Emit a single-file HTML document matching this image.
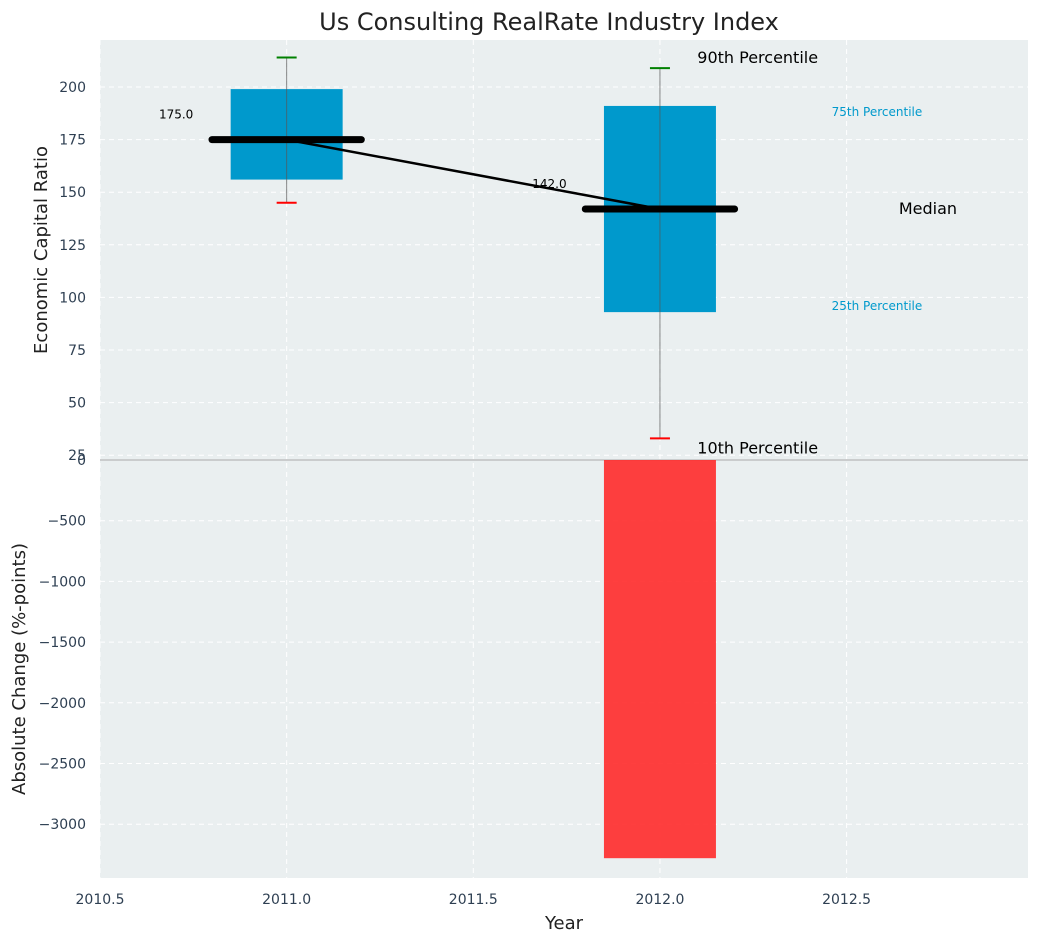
<!DOCTYPE html>
<html><head><meta charset="utf-8"><style>
body{margin:0;background:#fff;font-family:"Liberation Sans","DejaVu Sans",sans-serif}
svg text{font-family:"DejaVu Sans","Liberation Sans",sans-serif}
</style></head><body>
<svg id="c" width="1039" height="942" xmlns="http://www.w3.org/2000/svg"></svg>
<script>
const years=[2011,2012];
const p10=[145,33];
const p25=[156,93];
const median=[175,142];
const p75=[199,191];
const p90=[214,209];
const changes=[0,-3280];
const xTicks=[2010.5,2011.0,2011.5,2012.0,2012.5];
const yTopTicks=[25,50,75,100,125,150,175,200];
const yBotTicks=[0,-500,-1000,-1500,-2000,-2500,-3000];

const NS='http://www.w3.org/2000/svg';
const svg=document.getElementById('c');
const L=100,R=1028,T1=40,B1=460,T2=460,B2=878;
const x=v=>L+(v-2010.5)*373.3;
const yT=v=>87+(200-v)*2.104;
const yB=v=>460-v*0.1214;
function el(t,a,p){const e=document.createElementNS(NS,t);for(const k in a)e.setAttribute(k,a[k]);(p||svg).appendChild(e);return e;}
function tx(s,a){const e=el('text',a);e.textContent=s;return e;}

let bg1=el('rect',{x:L,y:T1,width:R-L,height:B1-T1,fill:'#eaeff0'});


let bg2=el('rect',{x:L,y:T2,width:R-L,height:B2-T2,fill:'#eaeff0'});



// grids
xTicks.forEach(v=>{
  el('line',{x1:x(v),x2:x(v),y1:T1,y2:B2,stroke:'#fff','stroke-dasharray':'5,4','stroke-width':1});
  const t=tx(v.toFixed(1),{x:x(v),y:904,'text-anchor':'middle','font-size':14,fill:'#2e3f52'});
  
  
});
yTopTicks.forEach(v=>{
  el('line',{x1:L,x2:R,y1:yT(v),y2:yT(v),stroke:'#fff','stroke-dasharray':'5,4'});
  const t=tx(String(v),{x:86,y:yT(v)+5,'text-anchor':'end','font-size':14,fill:'#2e3f52'});
  
  
});
yBotTicks.forEach(v=>{
  el('line',{x1:L,x2:R,y1:yB(v),y2:yB(v),stroke:'#fff','stroke-dasharray':'5,4'});
  const t=tx(v<0?'\u2212'+(-v):String(v),{x:86,y:yB(v)+5,'text-anchor':'end','font-size':14,fill:'#2e3f52'});
  
  
});
el('line',{x1:L,x2:R,y1:460,y2:460,stroke:'#aaa','stroke-width':1});

// change bars
changes.forEach((c,i)=>{
  if(c===0)return;
  const r=el('rect',{x:x(years[i]-0.15),width:x(years[i]+0.15)-x(years[i]-0.15),y:yB(0),height:yB(c)-yB(0),fill:'#ff2a2a','fill-opacity':0.9});
  
  
});

// boxes
years.forEach((yr,i)=>{
  const b=el('rect',{x:x(yr-0.15),width:x(yr+0.15)-x(yr-0.15),y:yT(p75[i]),height:yT(p25[i])-yT(p75[i]),fill:'#0099cc'});
  
  
  el('line',{x1:x(yr),x2:x(yr),y1:yT(p90[i]),y2:yT(p10[i]),stroke:'#555','stroke-opacity':0.7,'stroke-width':1});
  el('line',{x1:x(yr)-10,x2:x(yr)+10,y1:yT(p90[i]),y2:yT(p90[i]),stroke:'green','stroke-width':2});
  el('line',{x1:x(yr)-10,x2:x(yr)+10,y1:yT(p10[i]),y2:yT(p10[i]),stroke:'red','stroke-width':2});
});
// median line connecting
const pl=el('polyline',{points:years.map((y,i)=>x(y)+','+yT(median[i])).join(' '),fill:'none',stroke:'#000','stroke-width':2.5});


years.forEach((yr,i)=>{
  const m=el('line',{x1:x(yr-0.2),x2:x(yr+0.2),y1:yT(median[i]),y2:yT(median[i]),stroke:'#000','stroke-width':7,'stroke-linecap':'round'});
  
  
  const t=tx(median[i].toFixed(1),{x:x(yr-0.25),y:yT(median[i])-21,'text-anchor':'end','font-size':12,fill:'#000'});
  
  
});
// legend-like annotations
const last=years.length-1;
[['90th Percentile',x(2012.1),yT(p90[last])-5,16,'#000'],
 ['10th Percentile',x(2012.1),yT(p10[last])+15,16,'#000'],
 ['75th Percentile',x(2012.46),yT(p75[last])+10,12,'#0099cc'],
 ['25th Percentile',x(2012.46),yT(p25[last])+-2,12,'#0099cc'],
 ['Median',x(2012.64),yT(median[last])+5,16,'#000']].forEach(a=>{
  const t=tx(a[0],{x:a[1],y:a[2],'font-size':a[3],fill:a[4]});
  
  
});

let t=tx('Us Consulting RealRate Industry Index',{x:549,y:30,'text-anchor':'middle','font-size':24,fill:'#222'});


t=tx('Year',{x:564,y:929,'text-anchor':'middle','font-size':18,fill:'#222'});


t=tx('Economic Capital Ratio',{x:0,y:0,'text-anchor':'middle','font-size':18,fill:'#222',transform:'translate(47,250) rotate(-90)'});


t=tx('Absolute Change (%-points)',{x:0,y:0,'text-anchor':'middle','font-size':18,fill:'#222',transform:'translate(25,669) rotate(-90)'});


</script>
</body></html>
